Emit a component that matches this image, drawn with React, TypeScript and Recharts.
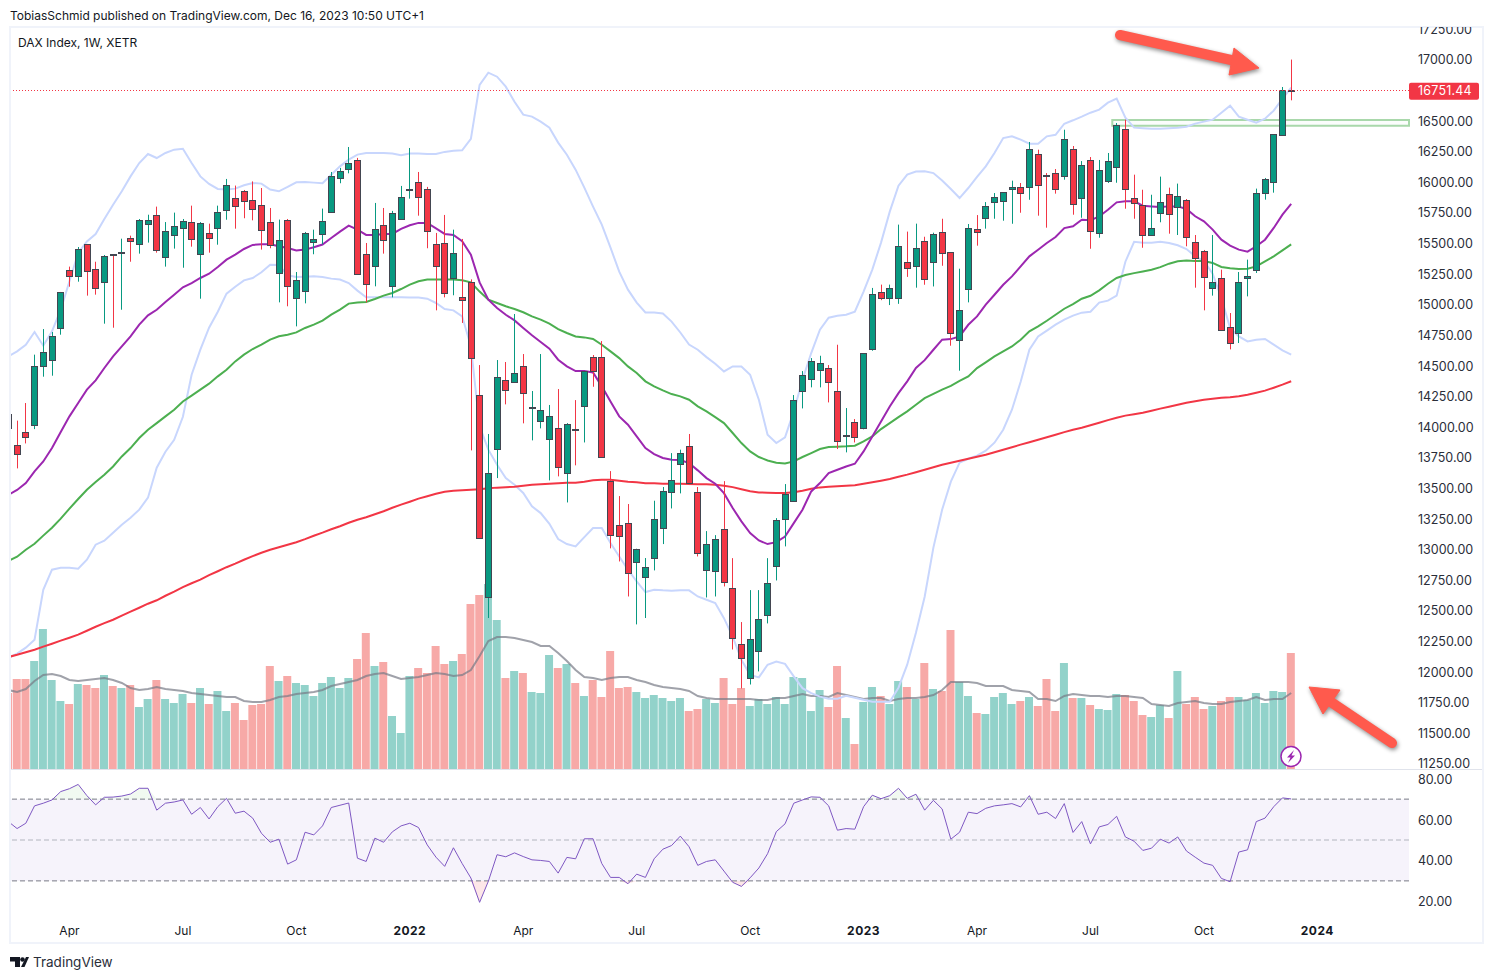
import React from 'react';
import { Area, Bar, Cell, ComposedChart, Line, ReferenceArea, ReferenceLine, XAxis, YAxis } from 'recharts';

const opens = [
  14100, 13847, 13953, 14007, 14489, 14538, 14800, 15276, 15227, 15489,
  15284, 15178, 15407, 15417, 15538, 15489, 15649, 15726, 15383, 15560,
  15619, 15668, 15407, 15579, 15619, 15766, 15865, 15922, 15848, 15808,
  15669, 15252, 15685, 15048, 15105, 15505, 15571, 15750, 16028, 16102,
  16175, 15407, 15309, 15644, 15146, 15693, 15932, 15995, 15938, 15486,
  15497, 15211, 15056, 15179, 14255, 12605, 13814, 14378, 14361, 14492,
  14152, 14043, 13896, 13986, 13618, 13980, 14165, 14566, 14566, 13553,
  13193, 13210, 12891, 12768, 12924, 13169, 13463, 13692, 13839, 13463,
  12825, 12817, 13160, 12678, 12221, 11943, 12164, 12458, 12858, 13242,
  13389, 14288, 14386, 14459, 14476, 14288, 13925, 14034, 13983, 14633,
  15099, 15050, 15050, 15344, 15312, 15513, 15341, 15586, 15423, 14704,
  15121, 15611, 15701, 15831, 15840, 15938, 15954, 15954, 16224, 16052,
  16068, 16044, 16264, 15864, 16175, 15578, 16003, 16117, 16428, 15864,
  15807, 15562, 15742, 15897, 15791, 15848, 15505, 15432, 15129, 15211,
  14811, 14762, 15211, 15276, 15905, 15995, 16379, 16747,
];

const closes = [
  13983, 13773, 13912, 14489, 14606, 14737, 15097, 15227, 15448, 15268,
  15129, 15391, 15400, 15423, 15510, 15685, 15685, 15437, 15595, 15636,
  15677, 15530, 15660, 15538, 15750, 15971, 15799, 15840, 15775, 15603,
  15481, 15522, 15146, 15195, 15579, 15530, 15677, 16044, 16085, 16151,
  15244, 15162, 15612, 15522, 15742, 15873, 15938, 15873, 15595, 15309,
  15089, 15415, 15032, 14557, 13087, 13618, 14402, 14296, 14435, 14272,
  14157, 14133, 14084, 13667, 14018, 13975, 14451, 14451, 13749, 13112,
  13103, 12801, 12995, 12850, 13242, 13471, 13561, 13781, 13536, 12964,
  13038, 13079, 12727, 12270, 12106, 12262, 12425, 12719, 13234, 13446,
  14214, 14418, 14533, 14516, 14361, 13879, 13928, 13912, 14598, 15083,
  15050, 15132, 15475, 15295, 15459, 15202, 15570, 15415, 14761, 14949,
  15619, 15586, 15799, 15872, 15913, 15954, 15905, 16264, 15970, 16041,
  15938, 16346, 15815, 16134, 15595, 16093, 16166, 16463, 15938, 15823,
  15562, 15619, 15832, 15737, 15881, 15546, 15374, 15219, 15178, 14786,
  14680, 15178, 15227, 15905, 16020, 16387, 16747, 16740,
];

const highs = [
  14170, 14046, 14190, 14585, 14794, 14770, 15097, 15304, 15464, 15489,
  15344, 15399, 15407, 15532, 15557, 15693, 15728, 15794, 15668, 15745,
  15693, 15802, 15668, 15655, 15802, 16020, 15966, 15930, 16000, 15946,
  15783, 15688, 15693, 15260, 15587, 15606, 15778, 16077, 16110, 16281,
  16192, 15497, 15824, 15783, 15759, 15963, 16273, 16077, 15955, 15579,
  15726, 15606, 15530, 15200, 14500, 13937, 14541, 14525, 14917, 14590,
  14288, 14590, 14174, 14304, 14026, 14214, 14451, 14582, 14696, 13634,
  13430, 13365, 13000, 12924, 13392, 13504, 13781, 13809, 13937, 13504,
  13144, 13111, 13552, 12923, 12401, 12662, 12662, 12923, 13250, 13528,
  14255, 14451, 14557, 14576, 14500, 14666, 14149, 14059, 14598, 15130,
  15157, 15157, 15647, 15590, 15655, 15548, 15581, 15695, 15423, 15287,
  15652, 15725, 15831, 15905, 15913, 16006, 15987, 16322, 16259, 16068,
  16101, 16422, 16289, 16166, 16199, 16175, 16232, 16477, 16504, 16055,
  15932, 15891, 16039, 15949, 15982, 15856, 15562, 15440, 15562, 15279,
  14925, 15260, 15361, 15941, 16028, 16387, 16771, 16995,
];

const lows = [
  13880, 13656, 13860, 13977, 14405, 14413, 14748, 15140, 15181, 15067,
  15075, 14838, 14805, 14952, 15344, 15410, 15500, 15418, 15304, 15451,
  15295, 15467, 15042, 15418, 15483, 15687, 15614, 15699, 15682, 15443,
  15454, 15012, 14980, 14816, 15004, 15405, 15486, 15750, 15985, 16066,
  15244, 15012, 15143, 15410, 15053, 15693, 15859, 15720, 15454, 14947,
  15053, 15070, 14844, 13803, 13087, 12434, 13577, 14179, 14361, 14024,
  13885, 13983, 13558, 13591, 13378, 13681, 13868, 14323, 13749, 13003,
  12896, 12610, 12382, 12434, 12823, 13038, 13329, 13452, 13520, 12937,
  12602, 12610, 12692, 12177, 11859, 11891, 11998, 12390, 12741, 13019,
  13389, 14146, 14318, 14318, 14195, 13814, 13787, 13868, 13975, 14617,
  15030, 14990, 15000, 15220, 15132, 15156, 15142, 15311, 14658, 14454,
  15012, 15475, 15614, 15695, 15679, 15654, 15744, 15850, 15720, 15622,
  15900, 16014, 15728, 15703, 15450, 15540, 15987, 15989, 15777, 15695,
  15458, 15562, 15666, 15573, 15562, 15470, 15132, 14947, 15067, 14786,
  14628, 14680, 15061, 15252, 15851, 15908, 16379, 16662,
];

const volumes = [
  76, 90, 90, 108, 140, 89, 68, 65, 85, 84,
  81, 94, 83, 81, 84, 62, 70, 89, 70, 66,
  75, 66, 81, 65, 78, 58, 66, 49, 64, 65,
  103, 88, 93, 86, 84, 73, 86, 92, 81, 91,
  110, 136, 103, 107, 53, 36, 93, 101, 96, 123,
  105, 108, 115, 165, 174, 185, 149, 91, 98, 96,
  77, 76, 114, 101, 105, 86, 73, 89, 72, 118,
  81, 82, 77, 71, 74, 71, 68, 71, 58, 60,
  70, 66, 91, 65, 81, 63, 70, 65, 72, 65,
  92, 91, 58, 79, 62, 103, 51, 25, 67, 82,
  73, 65, 88, 82, 70, 106, 80, 78, 139, 87,
  73, 56, 55, 72, 76, 65, 68, 72, 63, 90,
  58, 106, 71, 71, 64, 60, 59, 75, 74, 68,
  54, 52, 64, 51, 98, 65, 72, 60, 63, 68,
  72, 72, 69, 76, 66, 78, 77, 116,
];

const volumeMa = [
  79, 77, 80, 88, 94, 95, 93, 89, 88, 89,
  90, 91, 89, 86, 81, 79, 80, 82, 80, 79,
  78, 76, 75, 74, 73, 72, 72, 68, 67, 67,
  69, 72, 73, 75, 76, 77, 79, 83, 85, 87,
  89, 93, 95, 96, 93, 90, 91, 92, 94, 96,
  95, 93, 94, 99, 113, 128, 132, 132, 131, 129,
  127, 123, 123, 116, 108, 99, 92, 91, 89, 91,
  92, 92, 89, 87, 84, 82, 81, 80, 78, 73,
  71, 70, 70, 70, 70, 70, 69, 69, 71, 71,
  73, 75, 73, 73, 72, 76, 74, 72, 70, 71,
  71, 68, 70, 71, 71, 72, 74, 79, 87, 87,
  87, 86, 83, 83, 83, 79, 78, 77, 70, 70,
  68, 73, 75, 74, 73, 73, 72, 73, 73, 72,
  71, 65, 64, 63, 66, 67, 68, 66, 65, 65,
  67, 68, 69, 72, 69, 70, 70, 76,
];

const purpleMa = [
  13440, 13480, 13536, 13632, 13713, 13822, 13953, 14081, 14190, 14299,
  14375, 14476, 14571, 14653, 14734, 14830, 14906, 14952, 15015, 15075,
  15135, 15170, 15211, 15246, 15301, 15361, 15402, 15448, 15481, 15486,
  15486, 15470, 15456, 15435, 15443, 15462, 15484, 15538, 15590, 15639,
  15606, 15563, 15563, 15571, 15571, 15612, 15642, 15661, 15661, 15617,
  15571, 15563, 15511, 15402, 15175, 15034, 14966, 14911, 14865, 14803,
  14743, 14688, 14634, 14544, 14489, 14451, 14451, 14440, 14326, 14203,
  14081, 14013, 13918, 13822, 13773, 13741, 13727, 13724, 13700, 13640,
  13577, 13531, 13454, 13332, 13223, 13128, 13068, 13038, 13054, 13100,
  13209, 13318, 13468, 13536, 13618, 13645, 13672, 13694, 13795, 13917,
  14040, 14162, 14271, 14367, 14476, 14540, 14625, 14707, 14712, 14734,
  14829, 14897, 14993, 15074, 15156, 15224, 15306, 15388, 15442, 15497,
  15546, 15619, 15633, 15687, 15682, 15714, 15769, 15829, 15837, 15837,
  15801, 15796, 15790, 15796, 15796, 15775, 15715, 15674, 15606, 15524,
  15475, 15443, 15426, 15470, 15524, 15620, 15728, 15816,
];

const greenMa = [
  12900, 12935, 12992, 13041, 13107, 13172, 13246, 13327, 13406, 13482,
  13544, 13604, 13672, 13754, 13822, 13904, 13972, 14026, 14081, 14135,
  14203, 14250, 14299, 14348, 14408, 14462, 14530, 14585, 14631, 14667,
  14708, 14735, 14748, 14767, 14803, 14830, 14863, 14912, 14953, 15002,
  15010, 15015, 15040, 15067, 15089, 15121, 15157, 15184, 15198, 15198,
  15198, 15198, 15192, 15176, 15100, 15034, 15007, 14980, 14958, 14931,
  14898, 14871, 14838, 14794, 14762, 14734, 14726, 14713, 14666, 14612,
  14557, 14489, 14435, 14367, 14326, 14293, 14263, 14244, 14217, 14163,
  14122, 14075, 14026, 13945, 13863, 13795, 13749, 13721, 13702, 13697,
  13713, 13749, 13781, 13814, 13830, 13833, 13836, 13841, 13876, 13917,
  13977, 14026, 14075, 14122, 14176, 14230, 14265, 14300, 14330, 14370,
  14407, 14475, 14522, 14571, 14611, 14652, 14707, 14775, 14816, 14862,
  14911, 14960, 14998, 15042, 15066, 15110, 15164, 15211, 15235, 15251,
  15265, 15279, 15300, 15328, 15347, 15353, 15350, 15350, 15334, 15301,
  15290, 15285, 15287, 15306, 15347, 15388, 15437, 15486,
];

const redMa = [
  12115, 12134, 12155, 12175, 12200, 12224, 12249, 12273, 12298, 12330,
  12363, 12392, 12420, 12453, 12486, 12518, 12551, 12579, 12616, 12649,
  12686, 12718, 12747, 12784, 12816, 12849, 12878, 12910, 12939, 12967,
  12992, 13012, 13033, 13053, 13078, 13106, 13131, 13159, 13184, 13212,
  13237, 13257, 13282, 13306, 13335, 13360, 13384, 13409, 13429, 13449,
  13466, 13474, 13478, 13482, 13486, 13493, 13499, 13503, 13507, 13515,
  13523, 13527, 13531, 13535, 13539, 13539, 13547, 13560, 13564, 13564,
  13556, 13547, 13542, 13535, 13534, 13531, 13531, 13531, 13529, 13527,
  13527, 13523, 13515, 13503, 13486, 13470, 13460, 13458, 13455, 13455,
  13462, 13474, 13490, 13501, 13507, 13511, 13515, 13519, 13531, 13543,
  13556, 13570, 13588, 13605, 13625, 13645, 13666, 13686, 13702, 13719,
  13735, 13751, 13768, 13788, 13809, 13829, 13850, 13870, 13890, 13911,
  13931, 13952, 13972, 13988, 14009, 14029, 14050, 14070, 14087, 14099,
  14111, 14127, 14144, 14160, 14176, 14193, 14205, 14217, 14225, 14233,
  14238, 14246, 14258, 14274, 14291, 14315, 14340, 14368,
];

const bbUpper = [
  14571, 14612, 14666, 14770, 14658, 14775, 14952, 15184, 15415, 15510,
  15570, 15693, 15810, 15919, 16041, 16150, 16224, 16191, 16232, 16259,
  16267, 16150, 16041, 15979, 15938, 15933, 15941, 15968, 15987, 15982,
  15933, 15919, 15955, 15993, 15995, 15990, 15985, 16055, 16123, 16178,
  16219, 16232, 16232, 16232, 16227, 16213, 16227, 16227, 16224, 16224,
  16241, 16251, 16254, 16347, 16789, 16888, 16855, 16774, 16651, 16545,
  16529, 16488, 16439, 16317, 16218, 16096, 15949, 15794, 15647, 15459,
  15263, 15116, 15010, 14929, 14929, 14921, 14855, 14766, 14668, 14625,
  14565, 14511, 14448, 14489, 14489, 14421, 14217, 13931, 13863, 13909,
  14122, 14380, 14598, 14789, 14887, 14903, 14911, 14936, 15100, 15280,
  15500, 15753, 15965, 16055, 16080, 16082, 16068, 16008, 15938, 15864,
  15946, 16036, 16123, 16232, 16354, 16368, 16341, 16308, 16308, 16368,
  16381, 16471, 16499, 16529, 16561, 16586, 16643, 16676, 16521, 16439,
  16435, 16431, 16431, 16435, 16439, 16447, 16472, 16488, 16504, 16561,
  16619, 16529, 16504, 16480, 16512, 16578, 16676, 16766,
];

const bbLower = [
  12110, 12143, 12192, 12257, 12665, 12829, 12845, 12845, 12837, 12910,
  13033, 13065, 13131, 13196, 13253, 13319, 13417, 13662, 13792, 13890,
  14078, 14421, 14626, 14805, 14936, 15083, 15140, 15192, 15211, 15258,
  15320, 15317, 15233, 15219, 15222, 15225, 15219, 15206, 15198, 15170,
  15108, 15053, 15053, 15053, 15053, 15053, 15051, 15051, 15042, 15007,
  14958, 14947, 14898, 14653, 14000, 13809, 13686, 13577, 13523, 13455,
  13346, 13291, 13204, 13079, 13038, 13019, 13095, 13169, 13169, 13046,
  12937, 12828, 12733, 12646, 12665, 12660, 12657, 12660, 12660, 12610,
  12583, 12556, 12433, 12283, 12093, 11970, 11949, 12052, 12079, 12060,
  11957, 11861, 11820, 11792, 11775, 11775, 11799, 11783, 11767, 11750,
  11750, 11750, 11865, 12053, 12314, 12608, 13009, 13319, 13548, 13703,
  13735, 13760, 13801, 13866, 13972, 14135, 14364, 14626, 14733, 14781,
  14830, 14871, 14904, 14928, 14936, 15010, 15026, 15067, 15344, 15507,
  15499, 15499, 15507, 15497, 15478, 15448, 15388, 15350, 15246, 15048,
  14803, 14734, 14693, 14707, 14713, 14667, 14620, 14585,
];

const rsiValues = [
  59, 55.6, 58.2, 66.7, 68, 69.6, 73.7, 75.1, 77.2, 71.7,
  67.2, 70.9, 71, 71.5, 72.5, 75.3, 75.3, 64.6, 68, 68.6,
  69.6, 62.6, 65.9, 60.3, 66.3, 70.4, 63.1, 64.1, 60.7, 53.3,
  48.9, 50.4, 38.2, 40.3, 53.8, 52.5, 56.9, 65.9, 67, 68.1,
  41.1, 39.5, 50.9, 48.9, 54, 56.9, 58.2, 56.1, 47.6, 41.6,
  37.1, 46.2, 38.5, 31.4, 19.5, 29.8, 42.8, 41.8, 43.7, 41.9,
  40.3, 40, 39.5, 33.8, 41.5, 40.8, 50.6, 50.6, 38.5, 31.7,
  31.7, 28.6, 33.3, 31.7, 40.8, 45.5, 47.3, 51.9, 46.7, 37.6,
  39.5, 40.3, 34.8, 29.3, 27.3, 31.5, 36.3, 43.3, 54.1, 57.9,
  68, 69.6, 71.1, 70.9, 66.7, 54.8, 55.6, 55.3, 66.3, 71.9,
  70.2, 71.7, 75.3, 70.4, 72.4, 64.6, 69.4, 65.2, 50.4, 53.8,
  63.6, 62.9, 65.5, 66.7, 67.2, 67.8, 66.2, 71.7, 62.6, 63.6,
  60.5, 67.8, 53.7, 59, 48.1, 56.4, 57.6, 61.6, 51.5, 49.4,
  44.9, 46, 50.4, 48.5, 51.5, 44.6, 41.6, 38.7, 37.6, 31.2,
  29.6, 44.1, 45.2, 59, 60.7, 66.3, 70.6, 70.1,
];

const priceTicks = [
  11250, 11500, 11750, 12000, 12250, 12500, 12750, 13000, 13250, 13500, 13750, 14000, 14250,
  14500, 14750, 15000, 15250, 15500, 15750, 16000, 16250, 16500, 17000, 17250,
];
const rsiTicks = [20, 40, 60, 80];
const timeTickWeeks = [7, 20, 33, 46, 59, 72, 85, 98, 111, 124, 137, 150];
const timeTickNames = ['Apr', 'Jul', 'Oct', '2022', 'Apr', 'Jul', 'Oct', '2023', 'Apr', 'Jul', 'Oct', '2024'];
const lastPriceLabel = '16751.44';

const GREEN = '#089981';
const RED = '#f23645';
const FONT = 'Inter, "Noto Sans", sans-serif';
const SLOTS = 161; // 148 weeks plus the empty space on the right

const rows = Array.from({ length: SLOTS }, (_, i) => ({
  week: i,
  open: opens[i],
  close: closes[i],
  high: highs[i],
  low: lows[i],
  volume: volumes[i],
  volumeMa: volumeMa[i],
  purpleMa: purpleMa[i],
  greenMa: greenMa[i],
  redMa: redMa[i],
  bbUpper: bbUpper[i],
  bbLower: bbLower[i],
  rsi: rsiValues[i],
}));

const Candle = (props: any) => {
  const { x, y, width, height, payload } = props;
  if (!payload || payload.high == null || !height) return <g />;
  const perUnit = Math.abs(height) / (payload.high - payload.low);
  const up = payload.close >= payload.open;
  const top = y + (payload.high - Math.max(payload.open, payload.close)) * perUnit;
  const bottom = y + (payload.high - Math.min(payload.open, payload.close)) * perUnit;
  const cx = Math.round(x + width / 2 - 0.5) + 0.5;
  const color = up ? GREEN : RED;
  return (
    <g>
      <line x1={cx} x2={cx} y1={y} y2={y + Math.abs(height)} stroke={color} strokeWidth={1} />
      <rect
        x={cx - 3}
        y={Math.round(top) + 0.5}
        width={6}
        height={Math.max(Math.round(bottom - top), 1)}
        fill={color}
        stroke="#434651"
        strokeWidth={1}
      />
    </g>
  );
};

const PriceTag = (props: any) => {
  const { viewBox } = props;
  const left = viewBox.x + viewBox.width;
  return (
    <g>
      <rect x={left} y={viewBox.y - 8} width={70} height={17} rx={2} fill={RED} />
      <text x={left + 9} y={viewBox.y + 4.5} fill="#fff" fontFamily={FONT} fontSize={12.5} letterSpacing={0.2}>
        {lastPriceLabel}
      </text>
    </g>
  );
};

const TimeTick = (props: any) => {
  const { x, y, payload } = props;
  const name = timeTickNames[timeTickWeeks.indexOf(payload.value)];
  const isYear = name && name.length === 4;
  return (
    <text
      x={x}
      y={y + 10}
      textAnchor="middle"
      fontFamily={FONT}
      fontSize={12}
      fontWeight={isYear ? 700 : 400}
      fill="#131722"
      letterSpacing={isYear ? 0.5 : 0}
    >
      {name}
    </text>
  );
};

const priceTickStyle = { fontFamily: FONT, fontSize: 12.5, fill: '#2a2e39', dy: 1 };
const rsiTickStyle = { fontFamily: FONT, fontSize: 12.5, fill: '#2a2e39', dy: 0.5 };

const lineProps = { type: 'linear' as const, dot: false, activeDot: false, isAnimationActive: false };

const App: React.FC = () => {
  return (
    <div style={{ position: 'absolute', left: 0, top: 0, width: 1493, height: 979, background: '#fff', fontFamily: FONT }}>
      <div style={{ position: 'absolute', left: 10, top: 8, fontSize: 12, color: '#131722', whiteSpace: 'nowrap' }}>
        TobiasSchmid published on TradingView.com, Dec 16, 2023 10:50 UTC+1
      </div>

      {/* frame */}
      <div style={{ position: 'absolute', left: 9, top: 26, width: 1475, height: 918, boxSizing: 'border-box', border: '2px solid #f0f3fa' }} />

      {/* price pane */}
      <div style={{ position: 'absolute', left: 11, top: 27, width: 1471, height: 742, overflow: 'hidden' }}>
        <div style={{ position: 'absolute', left: -6.8, top: 0 }}>
          <ComposedChart width={1479} height={742} data={rows} margin={{ top: 0, right: 0, bottom: 0, left: 0 }} barCategoryGap={0}>
            <XAxis dataKey="week" hide />
            <XAxis dataKey="week" xAxisId="vol" hide />
            <YAxis
              orientation="right"
              width={74}
              domain={[11201, 17261]}
              allowDataOverflow
              ticks={priceTicks}
              interval={0}
              axisLine={false}
              tickLine={false}
              tickMargin={3}
              tick={priceTickStyle}
              tickFormatter={(v: number) => v.toFixed(2)}
            />
            <YAxis yAxisId="vol" hide domain={[0, 742]} allowDataOverflow />

            <Bar dataKey="volume" xAxisId="vol" yAxisId="vol" barSize={8} isAnimationActive={false} zIndex={100}>
              {rows.map((r) => (
                <Cell key={r.week} fill={r.close >= r.open ? '#92d2ca' : '#f7a9a7'} />
              ))}
            </Bar>
            <Line {...lineProps} dataKey="volumeMa" xAxisId="vol" yAxisId="vol" stroke="#787b86" strokeOpacity={0.7} strokeWidth={2} zIndex={110} />

            <ReferenceArea x1={127} x2={160} y1={16455} y2={16502} stroke="#a9d8ab" strokeWidth={2} fill="#4caf50" fillOpacity={0.02} />
            <ReferenceLine y={closes[147]} stroke={RED} strokeDasharray="1 2" shapeRendering="crispEdges" label={<PriceTag />} />

            <Line {...lineProps} dataKey="bbUpper" stroke="#c8d6fd" strokeWidth={2} zIndex={200} />
            <Line {...lineProps} dataKey="bbLower" stroke="#c8d6fd" strokeWidth={2} zIndex={200} />
            <Line {...lineProps} dataKey="redMa" stroke={RED} strokeWidth={2} zIndex={210} />
            <Line {...lineProps} dataKey="greenMa" stroke="#4caf50" strokeWidth={2} zIndex={210} />
            <Line {...lineProps} dataKey="purpleMa" stroke="#9c27b0" strokeWidth={2} zIndex={210} />

            <Bar
              dataKey={(d: any) => (d.high == null ? null : [d.low, d.high])}
              barSize={7}
              isAnimationActive={false}
              shape={<Candle />}
              zIndex={300}
            />
          </ComposedChart>
        </div>
      </div>
      <div style={{ position: 'absolute', left: 11, top: 769, width: 1471, height: 1, background: '#e0e3eb' }} />

      {/* rsi pane */}
      <div style={{ position: 'absolute', left: 11, top: 770, width: 1471, height: 172, overflow: 'hidden' }}>
        <div style={{ position: 'absolute', left: -6.8, top: 0 }}>
          <ComposedChart width={1479} height={173} data={rows} margin={{ top: 0, right: 0, bottom: 0, left: 0 }}>
            <XAxis
              dataKey="week"
              scale="band"
              height={26}
              ticks={timeTickWeeks}
              interval={0}
              axisLine={false}
              tickLine={false}
              tick={<TimeTick />}
            />
            <YAxis
              orientation="right"
              width={74}
              domain={[12.33, 84.25]}
              allowDataOverflow
              ticks={rsiTicks}
              interval={0}
              axisLine={false}
              tickLine={false}
              tickMargin={3}
              tick={rsiTickStyle}
              tickFormatter={(v: number) => v.toFixed(2)}
            />
            <ReferenceArea y1={30} y2={70} fill="#7e57c2" fillOpacity={0.07} stroke="none" />
            <ReferenceLine y={70} stroke="#787b86" strokeDasharray="5 3" />
            <ReferenceLine y={50} stroke="#b2b5be" strokeDasharray="5 3" />
            <ReferenceLine y={30} stroke="#787b86" strokeDasharray="5 3" />
            <Area
              type="linear"
              dataKey={(d: any) => (d.rsi == null ? null : [70, Math.max(d.rsi, 70)])}
              stroke="none"
              fill="#4caf50"
              fillOpacity={0.08}
              isAnimationActive={false}
              dot={false}
              activeDot={false}
            />
            <Area
              type="linear"
              dataKey={(d: any) => (d.rsi == null ? null : [Math.min(d.rsi, 30), 30])}
              stroke="none"
              fill={RED}
              fillOpacity={0.12}
              isAnimationActive={false}
              dot={false}
              activeDot={false}
            />
            <Line type="linear" dataKey="rsi" stroke="#7e57c2" strokeWidth={1} dot={false} activeDot={false} isAnimationActive={false} />
          </ComposedChart>
        </div>
      </div>

      <div style={{ position: 'absolute', left: 18, top: 35, fontSize: 12, color: '#131722', whiteSpace: 'nowrap' }}>
        DAX Index, 1W, XETR
      </div>

      {/* drawn annotations and logo */}
      <svg width={1493} height={979} style={{ position: 'absolute', left: 0, top: 0, pointerEvents: 'none' }}>
        <g style={{ filter: 'drop-shadow(1px 2px 2px rgba(0,0,0,0.45))' }} fill="#ff5a4d" stroke="#ff5a4d" strokeLinejoin="round">
          <line x1={1120} y1={35} x2={1240} y2={62} strokeWidth={10} strokeLinecap="round" />
          <polygon points="1259,68 1234,48 1229,75" strokeWidth={1} />
        </g>
        <g style={{ filter: 'drop-shadow(1px 2px 2px rgba(0,0,0,0.45))' }} fill="#ff5a4d" stroke="#ff5a4d" strokeLinejoin="round">
          <line x1={1392} y1={743} x2={1325} y2={698} strokeWidth={10} strokeLinecap="round" />
          <polygon points="1309,687 1340,690 1323,714" strokeWidth={1} />
        </g>
        <circle cx={1291} cy={756.5} r={10} fill="#fff" stroke="#9c27b0" strokeWidth={1.5} />
        <path d="M1294 750 L1287 757.5 L1290.5 757.5 L1288 763 L1295 755.5 L1291.5 755.5 Z" fill="#9c27b0" />
        <g fill="#131722">
          <path d="M10 957 H20 V967 H15 V961.5 H10 Z" />
          <circle cx={22.5} cy={959.5} r={2.3} />
          <path d="M26 957 H29 L24.5 967 H21 Z" />
        </g>
        <text x={33} y={967} fontFamily={FONT} fontSize={13.5} fill="#2a2e39">
          TradingView
        </text>
      </svg>
    </div>
  );
};

export default App;
